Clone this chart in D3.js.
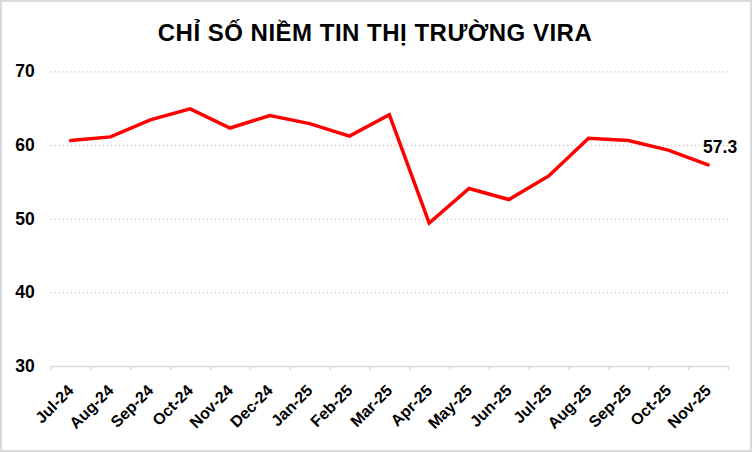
<!DOCTYPE HTML>
<html>
<head>
	<meta charset="utf-8">
	<title>Chỉ số niềm tin thị trường VIRA</title>
	<script src="https://cdn.jsdelivr.net/npm/d3@7/dist/d3.min.js"></script>
	<style>
		body {
		  margin: 0;
		  font-family: 'Liberation Sans', Arial, sans-serif;
		}

		svg {
		  display: block;
		}

		text {
		  fill: #000;
		  font-weight: 700;
		}

		text.title {
		  font-size: 24px;
		  letter-spacing: 0.5px;
		}

		.yaxis text {
		  font-size: 17.5px;
		}

		.xlabels text {
		  font-size: 16px;
		}

		text.value {
		  font-size: 17.5px;
		}

		.grid line {
		  stroke: #d4d4d4;
		  stroke-width: 1.5;
		  stroke-dasharray: 1.5 2.5;
		}

		.grid path {
		  stroke-width: 0;
		}

		.xaxis path, .xaxis line {
		  stroke: #d9d9d9;
		  stroke-width: 1.5;
		}

		path.series {
		  fill: none;
		  stroke: #ff0000;
		  stroke-width: 3.5;
		  stroke-linejoin: miter;
		  stroke-linecap: round;
		}
	</style>
</head>
<body>
	<svg id="chart" width="752" height="452"></svg>
<script>
	// values
	const months = ['Jul-24', 'Aug-24', 'Sep-24', 'Oct-24', 'Nov-24', 'Dec-24', 'Jan-25', 'Feb-25', 'Mar-25',
		'Apr-25', 'May-25', 'Jun-25', 'Jul-25', 'Aug-25', 'Sep-25', 'Oct-25', 'Nov-25'];
	const vira = [60.6, 61.1, 63.4, 64.9, 62.3, 64.0, 62.9, 61.2, 64.1,
		49.4, 54.1, 52.6, 55.8, 60.9, 60.6, 59.3, 57.3];
	const yTicks = [30, 40, 50, 60, 70];
	const titleText = 'CHỈ SỐ NIỀM TIN THỊ TRƯỜNG VIRA';

	const plotLeft = 50.7, plotRight = 728, plotTop = 71.3, plotBottom = 366;

	const svg = d3.select('#chart');

	// outer frame
	svg.append('rect')
	  .attr('x', 1).attr('y', 1)
	  .attr('width', 750).attr('height', 450)
	  .attr('fill', '#fff')
	  .attr('stroke', '#d9d9d9')
	  .attr('stroke-width', 2);

	const yScale = d3.scaleLinear().domain([30, 70]).range([plotBottom, plotTop]);
	const xScale = d3.scaleBand().domain(months).range([plotLeft, plotRight]).padding(0);
	// category boundaries for the tick marks
	const xEdge = d3.scaleLinear().domain([0, months.length]).range([plotLeft, plotRight]);

	// dotted horizontal grid
	svg.append('g')
	  .attr('class', 'grid')
	  .attr('transform', `translate(${plotLeft}, 0)`)
	  .call(d3.axisLeft(yScale).tickValues(yTicks.filter(v => v > 30))
	    .tickSize(-(plotRight - plotLeft)).tickFormat(''));

	// y labels, no axis line
	const yAxis = svg.append('g')
	  .attr('class', 'yaxis')
	  .attr('transform', `translate(${plotLeft}, 0)`)
	  .call(d3.axisLeft(yScale).tickValues(yTicks).tickSize(0).tickPadding(16));
	yAxis.select('.domain').remove();
	yAxis.selectAll('text').attr('font-family', null).attr('font-size', null);

	// x axis line with ticks between categories
	svg.append('g')
	  .attr('class', 'xaxis')
	  .attr('transform', `translate(0, ${plotBottom})`)
	  .call(d3.axisBottom(xEdge).tickValues(d3.range(months.length + 1))
	    .tickSize(4).tickSizeOuter(0).tickFormat(''));

	// rotated category labels
	const xLabels = svg.append('g')
	  .attr('class', 'xlabels')
	  .attr('transform', `translate(0, ${plotBottom})`)
	  .call(d3.axisBottom(xScale).tickSize(0).tickFormat(d => d));
	xLabels.select('.domain').remove();
	xLabels.selectAll('text')
	  .attr('font-family', null).attr('font-size', null)
	  .attr('y', 0).attr('dy', 0)
	  .attr('text-anchor', 'end')
	  .attr('transform', 'translate(4, 25.5) rotate(-45)');

	// the series line
	const line = d3.line()
	  .x((d, i) => xScale(months[i]) + xScale.bandwidth() / 2)
	  .y(d => yScale(d));

	svg.append('path')
	  .datum(vira)
	  .attr('class', 'series')
	  .attr('d', line);

	// label on the last point
	const last = vira.length - 1;
	svg.append('text')
	  .attr('class', 'value')
	  .attr('x', xScale(months[last]) + xScale.bandwidth() / 2 - 5)
	  .attr('y', yScale(vira[last]) - 12)
	  .text(vira[last].toFixed(1));

	svg.append('text')
	  .attr('class', 'title')
	  .attr('x', 375)
	  .attr('y', 41)
	  .attr('text-anchor', 'middle')
	  .text(titleText);
</script>
</body>
</html>
